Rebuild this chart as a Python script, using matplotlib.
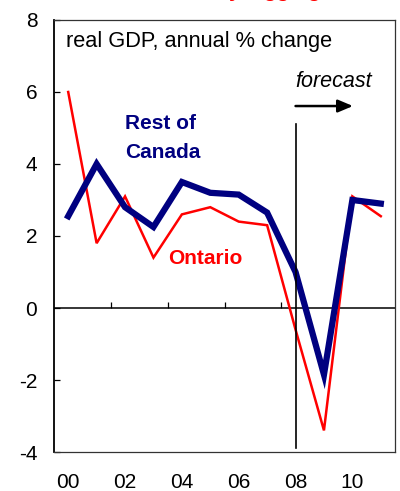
import matplotlib
matplotlib.use("Agg")
import matplotlib.pyplot as plt
import numpy as np

plt.rcParams['font.family'] = ['Liberation Sans', 'DejaVu Sans']

# Real GDP growth, annual % change
years = [2000, 2001, 2002, 2003, 2004, 2005, 2006, 2007, 2008, 2009, 2010, 2011]
year_labels = ["00", "02", "04", "06", "08", "10"]
ontario = [6.0, 1.8, 3.1, 1.4, 2.6, 2.8, 2.4, 2.3, -0.6, -3.4, 3.1, 2.55]
rest_of_canada = [2.55, 4.0, 2.8, 2.25, 3.5, 3.2, 3.15, 2.65, 1.0, -1.85, 3.0, 2.9]
y_ticks = [8, 6, 4, 2, 0, -2, -4]
forecast_start = 2008

RED = "#FF0000"
NAVY = "#000080"

fig = plt.figure(figsize=(4.0, 4.91), dpi=100)
ax = fig.add_axes([0.135, 0.0794, 0.8525, 0.8799])

x = np.arange(len(years))
ax.plot(x, ontario, color=RED, lw=1.8, solid_joinstyle='miter', zorder=3)
ax.plot(x, rest_of_canada, color=NAVY, lw=4.5, solid_joinstyle='miter', zorder=4)

ax.set_xlim(-0.5, len(years) - 0.5)
ax.set_ylim(min(y_ticks), max(y_ticks))

# zero line with small tick marks between every second year
ax.axhline(0, color='black', lw=1.1, zorder=2)
bounds = np.arange(1.5, len(years) - 1, 2)
ax.vlines(bounds, 0, 0.17, color='black', lw=0.9, zorder=2)

# forecast divider
fi = years.index(forecast_start)
ax.axvline(fi, ymin=0.009, ymax=0.76, color='black', lw=1.2, zorder=5)
ax.annotate("", xy=(fi + 2.02, 5.61), xytext=(fi, 5.61),
            arrowprops=dict(arrowstyle='-|>,head_length=0.9,head_width=0.38',
                            color='black', lw=1.8, shrinkA=0, shrinkB=0))
ax.text(fi, 6.14, "forecast", fontsize=15.5, style='italic', ha='left', va='baseline')

# axis ticks
ax.set_yticks(y_ticks)
ax.set_yticklabels([str(t) for t in y_ticks])
ax.tick_params(axis='y', direction='in', length=4.3, width=0.9, pad=12, labelsize=15)
ax.set_xticks(x[::2])
ax.set_xticklabels(year_labels)
ax.tick_params(axis='x', length=0, pad=15, labelsize=15)

for side in ['top', 'right', 'bottom']:
    ax.spines[side].set_color('#333333')
    ax.spines[side].set_linewidth(0.9)
ax.spines['left'].set_color('black')
ax.spines['left'].set_linewidth(1.3)

# labels
ax.text(0.035, 0.9375, "real GDP, annual % change", transform=ax.transAxes,
        fontsize=15.7, ha='left', va='baseline')
ax.text(2.0, 4.96, "Rest of", color=NAVY, fontsize=15, fontweight='bold',
        ha='left', va='baseline')
ax.text(2.0, 4.18, "Canada", color=NAVY, fontsize=15, fontweight='bold',
        ha='left', va='baseline')
ax.text(3.51, 1.22, "Ontario", color=RED, fontsize=15, fontweight='bold',
        ha='left', va='baseline')

fig.text(0.13, 1.007, "Ontario's economy lagging", color=RED, fontsize=15,
         fontweight='bold', ha='left', va='baseline')

fig.savefig("out.png", dpi=100)
